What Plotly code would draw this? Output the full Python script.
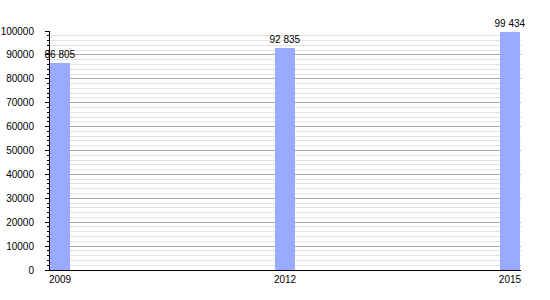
import plotly.graph_objects as go

years = [2009, 2012, 2015]
population = [86805, 92835, 99434]
labels = [f"{v:,}".replace(",", " ") for v in population]
x_ticks = [2009, 2012, 2015]

fig = go.Figure()
fig.add_trace(go.Bar(
    x=years, y=population, width=0.27,
    marker=dict(color="#99aaff", line=dict(width=0)),
    text=labels, textposition="outside", cliponaxis=False, constraintext="none",
    textfont=dict(family="Liberation Sans, Arial", size=10, color="#000"),
))
fig.update_layout(
    width=550, height=300,
    margin=dict(l=50, r=29, t=31, b=30, autoexpand=False),
    paper_bgcolor="white", plot_bgcolor="white",
    showlegend=False,
    font=dict(family="Liberation Sans, Arial", size=10, color="#000"),
    bargap=0,
)
fig.update_xaxes(
    range=[2008.866, 2015.147], tickvals=x_ticks, ticktext=[str(v) for v in x_ticks],
    showgrid=False, zeroline=False, showline=True, linecolor="#000", linewidth=1,
    ticks="", ticklabelstandoff=0, automargin=False,
)
fig.update_yaxes(
    range=[0, 100000], dtick=10000, tickformat="d",
    showgrid=True, gridcolor="#a8a8a8", gridwidth=1,
    zeroline=False, showline=True, linecolor="#000", linewidth=1,
    ticks="outside", ticklen=4, tickcolor="#000", ticklabelstandoff=9, automargin=False,
    minor=dict(dtick=2000, showgrid=True, gridcolor="#e2e2e2", gridwidth=1,
               ticks="outside", ticklen=2, tickcolor="#000"),
)
fig.write_html("out.html")
